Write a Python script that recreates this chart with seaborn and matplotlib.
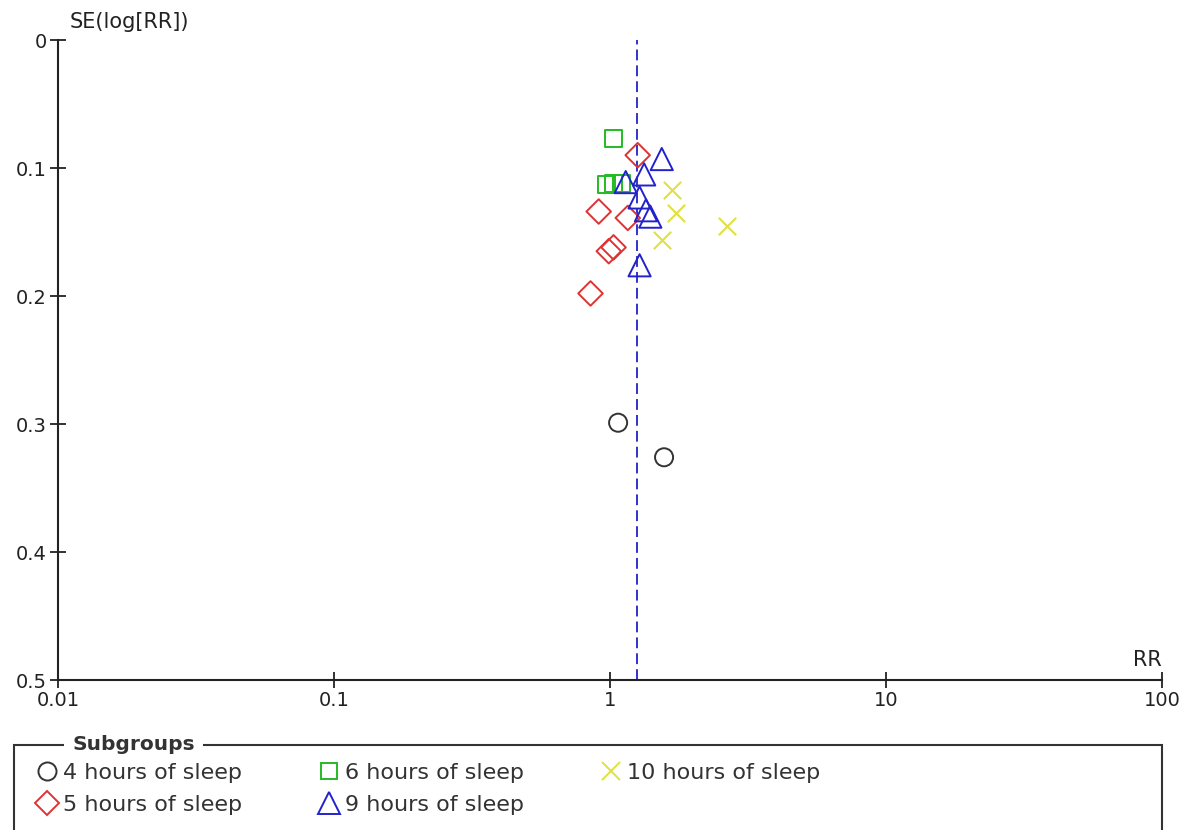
import pandas as pd
import matplotlib
matplotlib.use("Agg")
import matplotlib.pyplot as plt
import seaborn as sns
from matplotlib.lines import Line2D
from matplotlib.patches import Rectangle
from matplotlib.ticker import NullLocator

# values (RR on log scale, SE of log RR)
groups = ["4 hours of sleep", "5 hours of sleep", "6 hours of sleep",
          "9 hours of sleep", "10 hours of sleep"]

rr_4h = [1.07, 1.57]
se_4h = [0.299, 0.326]
rr_5h = [1.26, 0.91, 1.16, 0.99, 1.03, 0.85]
se_5h = [0.090, 0.134, 0.139, 0.165, 0.162, 0.198]
rr_6h = [1.03, 0.97, 1.03, 1.10]
se_6h = [0.077, 0.113, 0.112, 0.112]
rr_9h = [1.54, 1.33, 1.14, 1.28, 1.35, 1.40, 1.28]
se_9h = [0.093, 0.105, 0.111, 0.123, 0.133, 0.138, 0.176]
rr_10h = [1.68, 1.73, 1.54, 2.65]
se_10h = [0.117, 0.135, 0.156, 0.145]

pooled_rr = 1.25  # dashed vertical line

x_ticks = [0.01, 0.1, 1, 10, 100]
x_tick_labels = ["0.01", "0.1", "1", "10", "100"]
y_ticks = [0, 0.1, 0.2, 0.3, 0.4, 0.5]
y_tick_labels = ["0", "0.1", "0.2", "0.3", "0.4", "0.5"]

df = pd.concat([
    pd.DataFrame({"group": groups[0], "rr": rr_4h, "se": se_4h}),
    pd.DataFrame({"group": groups[1], "rr": rr_5h, "se": se_5h}),
    pd.DataFrame({"group": groups[2], "rr": rr_6h, "se": se_6h}),
    pd.DataFrame({"group": groups[3], "rr": rr_9h, "se": se_9h}),
    pd.DataFrame({"group": groups[4], "rr": rr_10h, "se": se_10h}),
], ignore_index=True)

markers = {groups[0]: "o", groups[1]: "D", groups[2]: "s", groups[3]: "^", groups[4]: "x"}
colors = {groups[0]: "#333333", groups[1]: "#dd3333", groups[2]: "#22bb22",
          groups[3]: "#2222cc", groups[4]: "#e0e040"}
msize = {groups[0]: 13, groups[1]: 12.5, groups[2]: 12, groups[3]: 16, groups[4]: 12.5}

sns.set_style("white")
plt.rcParams["font.family"] = ["DejaVu Sans"]

W, H = 1194, 830
fig = plt.figure(figsize=(W / 100, H / 100), dpi=100)
ax = fig.add_axes([58 / W, 1 - 680 / H, 1104 / W, 640 / H])

for g in groups:
    sub = df[df["group"] == g]
    c = colors[g]
    if markers[g] == "x":
        sns.scatterplot(data=sub, x="rr", y="se", marker="x", s=msize[g] ** 2,
                        color=c, linewidth=1.5, ax=ax, zorder=3)
    else:
        sns.scatterplot(data=sub, x="rr", y="se", marker=markers[g], s=msize[g] ** 2,
                        color=c, facecolor="none", edgecolor=c, linewidth=1.4,
                        ax=ax, zorder=3)

ax.axvline(pooled_rr, color="#2222cc", linestyle=(0, (6, 2.8)), linewidth=1.3, zorder=2)

ax.set_xscale("log")
ax.set_xlim(0.01, 100)
ax.set_ylim(0.5, 0)
ax.set_xticks(x_ticks)
ax.set_xticklabels(x_tick_labels)
ax.xaxis.set_minor_locator(NullLocator())
ax.set_yticks(y_ticks)
ax.set_yticklabels(y_tick_labels)
ax.set_xlabel("")
ax.set_ylabel("")

for side in ["top", "right"]:
    ax.spines[side].set_visible(False)
for side in ["left", "bottom"]:
    ax.spines[side].set_color("#222222")
    ax.spines[side].set_linewidth(1.5)
ax.tick_params(left=True, bottom=True, direction="inout", length=12, width=1.3,
               color="#222222", labelsize=14, labelcolor="#222222", pad=2)

ax.annotate("RR", xy=(1, 0), xycoords="axes fraction", xytext=(0, 7),
            textcoords="offset points", ha="right", va="bottom", fontsize=15, color="#222222")
ax.annotate("SE(log[RR])", xy=(0, 1), xycoords="axes fraction", xytext=(8.5, 5.5),
            textcoords="offset points", ha="left", va="bottom", fontsize=15, color="#222222")

# legend box with title sitting in the top border
handles = [Line2D([], [], marker=markers[g], linestyle="none", markersize=msize[g],
                  markerfacecolor="none", markeredgecolor=colors[g], color=colors[g],
                  markeredgewidth=1.4) for g in groups]
fig.legend(handles, groups, ncol=3, loc="upper left",
           bbox_to_anchor=(38 / W, 1 - 763 / H), frameon=False, fontsize=16,
           handlelength=0.8, handletextpad=0.33, columnspacing=3.5,
           labelspacing=0.52, borderpad=0, borderaxespad=0, labelcolor="#333333")

fig.add_artist(Rectangle((14 / W, -0.05), (1162 - 14) / W, 0.05 + 1 - 745 / H,
                         transform=fig.transFigure, fill=False, edgecolor="#333333",
                         linewidth=1.5))
fig.text(72 / W, 1 - 745 / H, "Subgroups", fontsize=14.5, fontweight="bold",
         color="#333333", ha="left", va="center",
         bbox=dict(facecolor="white", edgecolor="none", pad=6))

fig.savefig("out.png", dpi=100)
